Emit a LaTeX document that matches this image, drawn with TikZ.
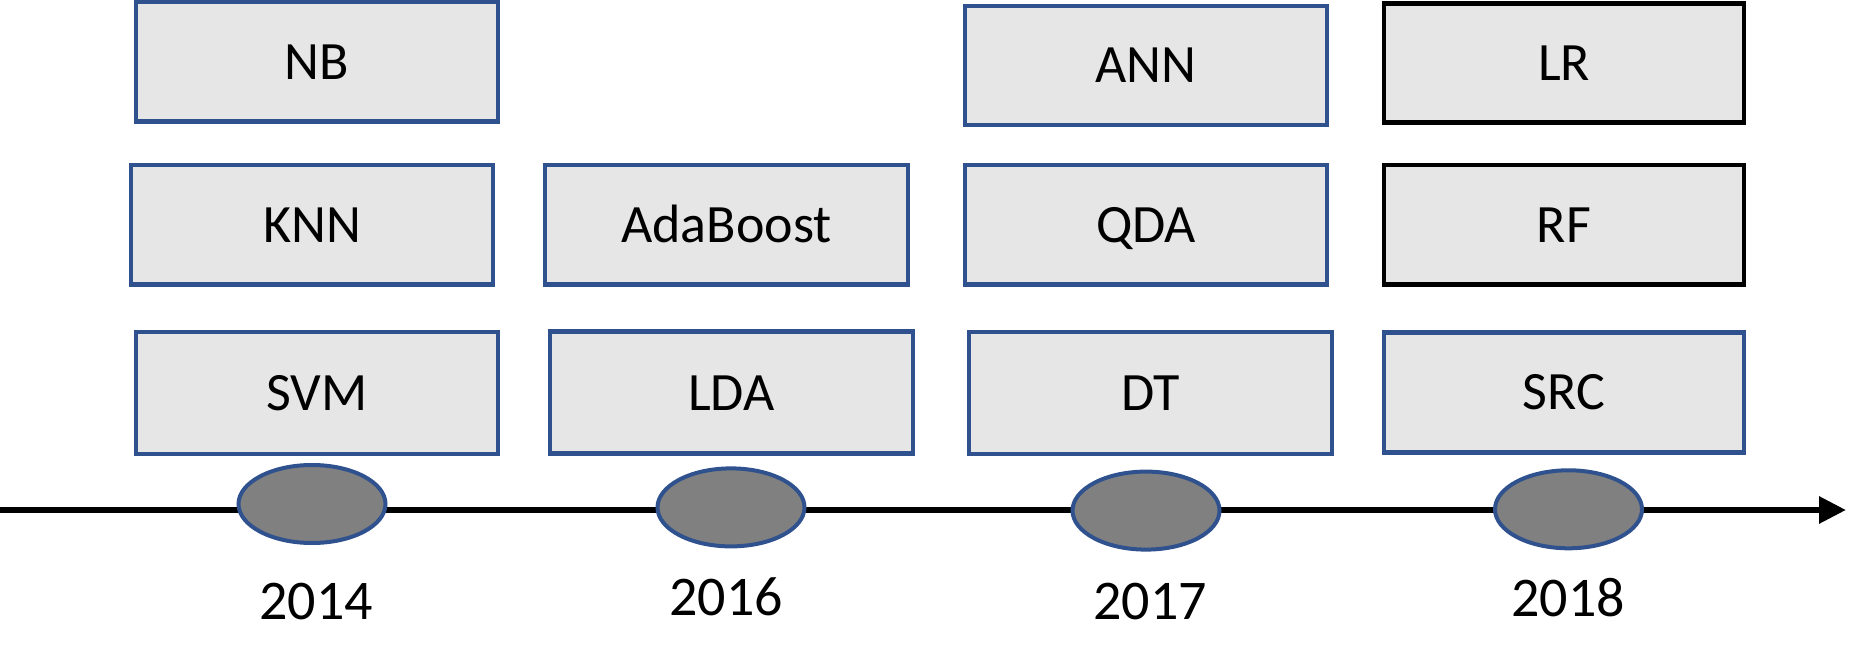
\documentclass[tikz,border=0pt]{standalone}
\usepackage{fontspec}
\setmainfont{Carlito}
\usetikzlibrary{arrows.meta,shapes.geometric}
\definecolor{boxblue}{HTML}{2F528F}
\definecolor{boxfill}{HTML}{E6E6E6}
\definecolor{dotfill}{HTML}{808080}
\tikzset{
  algbox/.style={draw=boxblue, line width=4.5pt, fill=boxfill, rectangle,
    minimum width=362pt, minimum height=119.5pt, inner sep=0pt,
    font=\fontsize{54pt}{60pt}\selectfont, text height=35pt, text depth=0pt},
  algboxk/.style={algbox, draw=black},
  yeardot/.style={draw=boxblue, line width=4pt, fill=dotfill, ellipse,
    minimum width=147pt, minimum height=78pt, inner sep=0pt},
  yearlbl/.style={font=\fontsize{56pt}{62pt}\selectfont, inner sep=0pt},
  axisline/.style={line width=6pt, -{Triangle[length=27pt,width=26pt]}}
}
\begin{document}
\begin{tikzpicture}[x=1pt,y=-1pt]
\useasboundingbox (0,0) rectangle (1875,668);
% axis
\coordinate (axstart) at (0,510);
\coordinate (axend) at (1846,510);
\draw[axisline] (axstart) -- (axend);
% year dots
\node[yeardot] (d2014) at (312,504) {};
\node[yeardot] (d2016) at (731,507.4) {};
\node[yeardot] (d2017) at (1146,510.6) {};
\node[yeardot] (d2018) at (1568.5,509.3) {};
% year labels
\node[yearlbl] (y2014) at (316,601.5) {2014};
\node[yearlbl] (y2016) at (726,597) {2016};
\node[yearlbl] (y2017) at (1150,601.5) {2017};
\node[yearlbl] (y2018) at (1568,597.6) {2018};
% boxes
\node[algbox] (nb) at (317,62) {NB};
\node[algbox] (knn) at (312,225) {KNN};
\node[algbox, minimum height=121.5pt] (svm) at (317,393) {SVM};
\node[algbox, minimum width=363pt] (ada) at (726.5,225) {AdaBoost};
\node[algbox, minimum width=363pt, minimum height=122pt] (lda) at (731.5,392.5) {LDA};
\node[algbox, minimum height=119pt] (ann) at (1146,65.5) {ANN};
\node[algbox] (qda) at (1146,225) {QDA};
\node[algbox, minimum width=363pt, minimum height=121.5pt] (dt) at (1150.5,393) {DT};
\node[algboxk, minimum width=360pt, minimum height=119pt] (lr) at (1564,63) {LR};
\node[algboxk, minimum width=360pt] (rf) at (1564,225) {RF};
\node[algbox, minimum width=360pt, minimum height=120pt] (src) at (1564,392.4) {SRC};
\end{tikzpicture}
\end{document}
